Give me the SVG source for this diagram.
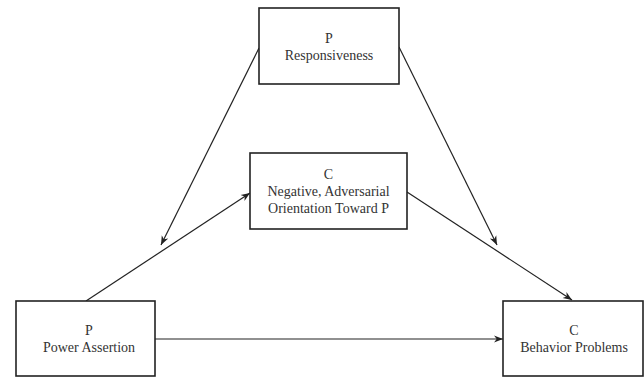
<svg xmlns="http://www.w3.org/2000/svg" width="644" height="377" viewBox="0 0 644 377">
<style>
.box{fill:#fff;stroke:#222;stroke-width:1.6}
.lbl{font-family:"Liberation Serif","Times New Roman",serif;font-size:14px;fill:#333;text-anchor:middle}
.con{stroke:#222;stroke-width:1.2;fill:none;marker-end:url(#ah)}
</style>
<defs>
<marker id="ah" viewBox="0 0 10 10" refX="10" refY="5" markerWidth="9" markerHeight="9" markerUnits="userSpaceOnUse" orient="auto">
<path d="M0,1 L10,5 L0,9 L3,5 Z" fill="#222"/>
</marker>
</defs>
<rect width="644" height="377" fill="#fff"/>
<g id="connectors">
<line class="con" x1="86" y1="301" x2="250" y2="193"/>
<line class="con" x1="259" y1="48" x2="161" y2="245"/>
<line class="con" x1="399" y1="47" x2="497" y2="245"/>
<line class="con" x1="407" y1="192" x2="572" y2="300"/>
<line class="con" x1="155" y1="339" x2="503" y2="339"/>
</g>
<g id="responsiveness">
<rect class="box" x="259" y="8" width="140" height="76"/>
<text class="lbl" x="329" y="43">P</text>
<text class="lbl" x="329" y="60">Responsiveness</text>
</g>
<g id="orientation">
<rect class="box" x="250" y="153" width="157" height="76"/>
<text class="lbl" x="328.5" y="179">C</text>
<text class="lbl" x="328.5" y="196">Negative, Adversarial</text>
<text class="lbl" x="328.5" y="213">Orientation Toward P</text>
</g>
<g id="power">
<rect class="box" x="16" y="301" width="139" height="75"/>
<text class="lbl" x="89" y="335">P</text>
<text class="lbl" x="89" y="352">Power Assertion</text>
</g>
<g id="behavior">
<rect class="box" x="503" y="301" width="140" height="75"/>
<text class="lbl" x="574" y="335">C</text>
<text class="lbl" x="574" y="352">Behavior Problems</text>
</g>
</svg>
